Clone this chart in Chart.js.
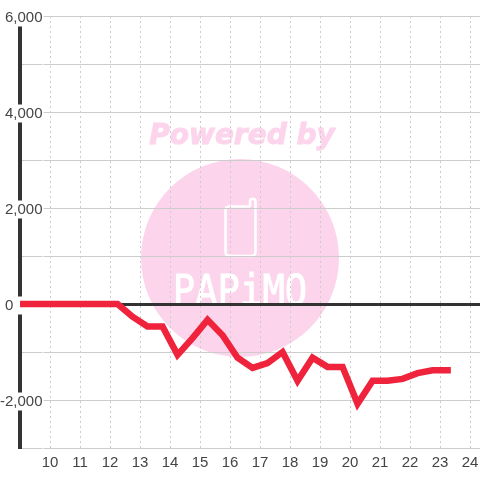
<!DOCTYPE html>
<html>
<head>
<meta charset="utf-8">
<script src="https://cdn.jsdelivr.net/npm/chart.js@4/dist/chart.umd.min.js"></script>
<style>
html,body{margin:0;padding:0;background:#fff;}
#wrap{width:480px;height:480px;}
</style>
</head>
<body>
<div id="wrap"><canvas id="myChart" width="480" height="480"></canvas></div>
<script>
// x is hour of day, points every half hour
const hours = [8.75,9.25,9.75,10.25,10.75,11.25,11.75,12.25,12.75,13.25,13.75,14.25,14.75,15.25,15.75,16.25,16.75,17.25,17.75,18.25,18.75,19.25,19.75,20.25,20.75,21.25,21.75,22.25,22.75,23.25];
const values = [0,0,0,0,0,0,0,0,-265,-470,-470,-1060,-710,-330,-650,-1120,-1330,-1230,-1000,-1600,-1120,-1310,-1310,-2080,-1600,-1600,-1560,-1440,-1380,-1380];
const yLabels = [6000,4000,2000,0,-2000];

const watermark = {
  id:'watermark',
  beforeDraw(chart){
    // y labels sit a little below their grid line
    const items = chart.scales.y.getLabelItems();
    if(!items.moved){
      items.forEach(it=>{ it.options.translation[1] += 1.5; });
      items.moved = true;
    }
    const c = chart.ctx;
    c.save();
    c.fillStyle = '#fcd5ec';
    c.strokeStyle = '#fcd5ec';
    c.beginPath();
    c.arc(240,258,99,0,Math.PI*2);
    c.fill();
    c.font = 'italic bold 28px "DejaVu Sans"';
    c.textAlign = 'center';
    c.textBaseline = 'alphabetic';
    c.lineWidth = 1;
    c.fillText('Powered by',242,144);
    c.strokeText('Powered by',242,144);
    // phone icon
    c.strokeStyle = '#fff';
    c.lineWidth = 2.5;
    c.beginPath();
    c.moveTo(250,206.5);
    c.lineTo(229.5,206.5);
    c.quadraticCurveTo(225.5,206.5,225.5,210.5);
    c.lineTo(225.5,252);
    c.quadraticCurveTo(225.5,256,229.5,256);
    c.lineTo(251.5,256);
    c.quadraticCurveTo(255.5,256,255.5,252);
    c.lineTo(255.5,201.5);
    c.arc(252.75,201.5,2.75,0,Math.PI,true);
    c.lineTo(250,206.5);
    c.stroke();
    c.fillStyle = '#fff';
    c.strokeStyle = '#fff';
    c.lineWidth = 0.8;
    c.font = '40px "DejaVu Sans Mono"';
    c.translate(240,305);
    c.scale(0.93,1.08);
    c.fillText('PAPiMO',0,0);
    c.strokeText('PAPiMO',0,0);
    c.restore();
  }
};

const ctx = document.getElementById('myChart').getContext('2d');
const myChart = new Chart(ctx,{
  type:'line',
  data:{
    labels:hours,
    datasets:[{
      data:hours.map((h,i)=>({x:h,y:values[i]})),
      borderColor:'#ef233c',
      borderWidth:6.5,
      borderCapStyle:'square',
      borderJoinStyle:'miter',
      pointRadius:0,
      tension:0
    }]
  },
  options:{
    responsive:false,
    animation:false,
    layout:{autoPadding:false,padding:{top:16,right:0,bottom:0,left:0}},
    plugins:{legend:{display:false},tooltip:{enabled:false}},
    scales:{
      x:{
        type:'linear',
        min:9,
        max:24.33,
        afterBuildTicks(s){ s.ticks = []; for(let h=10;h<=24;h++) s.ticks.push({value:h}); },
        afterFit(s){ s.height = 32; s.paddingLeft = 0; s.paddingRight = 0; },
        grid:{color:'#cccccc',lineWidth:1,drawTicks:false},
        border:{display:false,dash:[2,3]},
        ticks:{color:'#444444',font:{family:'"Liberation Sans"',size:15},padding:6,maxRotation:0,autoSkip:false,callback:v=>String(v)}
      },
      y:{
        min:-3000,
        max:6000,
        afterBuildTicks(s){ s.ticks = []; for(let v=6000;v>=-3000;v-=1000) s.ticks.push({value:v}); },
        afterFit(s){ s.width = 20; },
        grid:{
          drawTicks:false,
          color:c=>c.tick && c.tick.value===0 ? '#333333' : '#cccccc',
          lineWidth:c=>c.tick && c.tick.value===0 ? 3 : 1
        },
        border:{display:true,color:'#333333',width:4},
        ticks:{
          color:'#444444',
          font:{family:'"Liberation Sans"',size:15},
          mirror:true,
          crossAlign:'far',
          padding:-20,
          autoSkip:false,
          showLabelBackdrop:true,
          backdropColor:'#ffffff',
          backdropPadding:{top:0,bottom:0,left:0,right:1},
          callback(v){
            if(!yLabels.includes(v)) return '';
            if(v===0) return '0\u00a0\u00a0\u00a0\u00a0\u00a0\u00a0\u00a0';
            return v.toLocaleString('en-US');
          }
        }
      }
    }
  },
  plugins:[watermark]
});
</script>
</body>
</html>
